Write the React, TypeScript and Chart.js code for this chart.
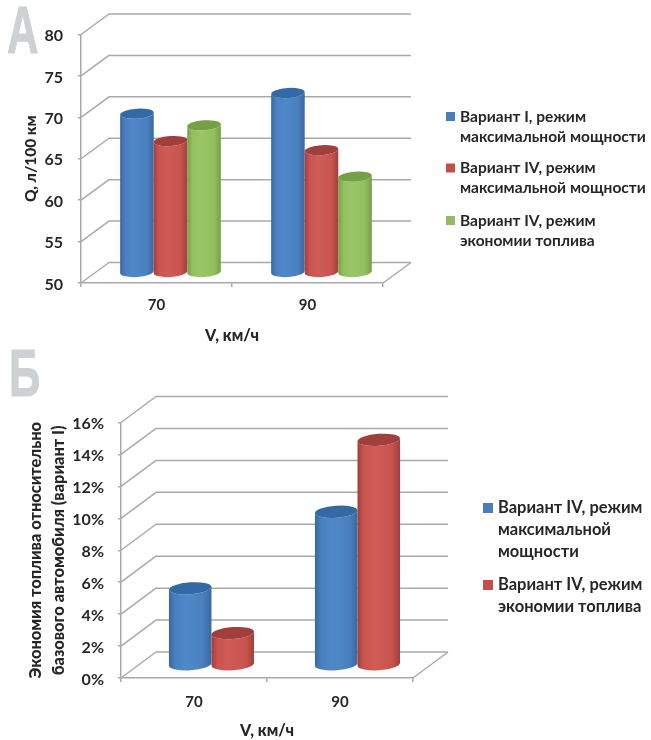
import React, { useEffect, useRef } from "react";
import { Chart, registerables } from "chart.js";

Chart.register(...registerables);

const speedCategories = ["70", "90"];

const fuelVariantOneMax = [69.2, 71.7];
const fuelVariantFourMax = [65.9, 64.8];
const fuelVariantFourEco = [67.8, 61.6];

const savingVariantFourMax = [4.8, 9.6];
const savingVariantFourEco = [2.0, 14.1];

const fuelLegend = [
  ["Вариант I, режим", "максимальной мощности"],
  ["Вариант IV, режим", "максимальной мощности"],
  ["Вариант IV, режим", "экономии топлива"],
];
const savingLegend = [
  ["Вариант IV, режим", "максимальной", "мощности"],
  ["Вариант IV, режим", "экономии топлива"],
];

const fuelAxisTitle = "Q, л/100 км";
const savingAxisTitle = ["Экономия топлива относительно", "базового автомобиля (вариант I)"];
const speedAxisTitle = "V, км/ч";

const BLUE = { edge: "#3a689f", body: "#4a80bf", light: "#4f88c9", cap: "#3369a5", swatch: "#4a7ebb" };
const RED = { edge: "#a03f3c", body: "#c9544f", light: "#cf5c58", cap: "#a03f3c", swatch: "#c0504d" };
const GREEN = { edge: "#789c47", body: "#93c05e", light: "#9ac765", cap: "#76a044", swatch: "#93bb5f" };

const FONT = "Lato, 'Open Sans', sans-serif";
const AXIS_GREY = "#a9a9a9";
const TEXT = "#262626";

type Palette = typeof BLUE;

// Side wall, back wall and floor of the box behind the columns.
const wallsPlugin = {
  id: "walls",
  beforeDatasetsDraw(chart: any, _args: any, opts: any) {
    const { ctx, chartArea: a, scales } = chart;
    const { dx, dy } = opts;
    ctx.save();
    ctx.strokeStyle = AXIS_GREY;
    ctx.lineWidth = 1.5;
    ctx.lineJoin = "round";
    for (const tick of scales.y.ticks) {
      const y = scales.y.getPixelForValue(tick.value);
      ctx.beginPath();
      ctx.moveTo(a.left, y);
      ctx.lineTo(a.left + dx, y - dy);
      ctx.lineTo(a.right + dx, y - dy);
      ctx.stroke();
    }
    ctx.beginPath();
    ctx.moveTo(a.right, a.bottom);
    ctx.lineTo(a.right + dx, a.bottom - dy);
    ctx.stroke();
    ctx.restore();
  },
};

// Columns are taken from the bar elements and drawn as cylinders half way into the box.
const cylinderPlugin = {
  id: "cylinders",
  afterDatasetsDraw(chart: any, _args: any, opts: any) {
    const { ctx } = chart;
    const { dx, dy, ry, palettes } = opts;
    const tilt = (-4 * Math.PI) / 180;
    chart.data.datasets.forEach((_ds: any, i: number) => {
      const pal: Palette = palettes[i];
      chart.getDatasetMeta(i).data.forEach((bar: any) => {
        const { x, y, base, width } = bar.getProps(["x", "y", "base", "width"], true);
        const cx = x + dx / 2;
        const top = y - dy / 2;
        const bottom = base - dy / 2;
        const rx = width / 2;
        const lift = Math.sin(tilt) * rx;
        const grad = ctx.createLinearGradient(cx - rx, 0, cx + rx, 0);
        grad.addColorStop(0, pal.edge);
        grad.addColorStop(0.15, pal.body);
        grad.addColorStop(0.4, pal.light);
        grad.addColorStop(0.8, pal.body);
        grad.addColorStop(1, pal.edge);
        ctx.save();
        ctx.beginPath();
        ctx.moveTo(cx - rx, top - lift);
        ctx.lineTo(cx - rx, bottom - lift);
        ctx.ellipse(cx, bottom, rx, ry, tilt, Math.PI, 0, true);
        ctx.lineTo(cx + rx, top + lift);
        ctx.ellipse(cx, top, rx, ry, tilt, 0, Math.PI, false);
        ctx.closePath();
        ctx.fillStyle = grad;
        ctx.fill();
        ctx.beginPath();
        ctx.ellipse(cx, top, rx, ry, tilt, 0, Math.PI * 2);
        ctx.fillStyle = pal.cap;
        ctx.fill();
        ctx.restore();
      });
    });
  },
};

// Legend with wrapped entries, placed beside the plot.
const wrappedLegendPlugin = {
  id: "wrappedLegend",
  afterDraw(chart: any, _args: any, opts: any) {
    const { ctx } = chart;
    const { boxX, textX, rows, lineGap, font, palettes, box } = opts;
    ctx.save();
    ctx.font = font;
    ctx.textBaseline = "middle";
    ctx.textAlign = "left";
    chart.data.datasets.forEach((ds: any, i: number) => {
      const rowY = rows[i];
      ctx.fillStyle = palettes[i].swatch;
      ctx.fillRect(boxX, rowY - box / 2, box, box);
      ctx.fillStyle = TEXT;
      ds.label.forEach((line: string, n: number) => {
        ctx.fillText(line, textX, rowY + n * lineGap);
      });
    });
    ctx.restore();
  },
};

function buildConfig(cfg: any) {
  return {
    type: "bar",
    data: {
      labels: speedCategories,
      datasets: cfg.series.map((values: number[], i: number) => ({
        label: cfg.legend[i],
        data: values,
        base: cfg.min,
        backgroundColor: "rgba(0,0,0,0)",
        borderWidth: 0,
        categoryPercentage: cfg.groupShare,
        barPercentage: 1,
      })),
    },
    options: {
      responsive: false,
      animation: false,
      layout: { padding: cfg.padding },
      plugins: {
        legend: { display: false },
        tooltip: { enabled: false },
        walls: { dx: cfg.dx, dy: cfg.dy },
        cylinders: { dx: cfg.dx, dy: cfg.dy, ry: cfg.ry, palettes: cfg.palettes },
        wrappedLegend: { ...cfg.legendBox, palettes: cfg.palettes },
      },
      scales: {
        x: {
          grid: { drawOnChartArea: false, drawTicks: true, tickLength: 4, color: AXIS_GREY, offset: true, lineWidth: 1.5 },
          border: { color: AXIS_GREY, width: 1.5 },
          ticks: { color: TEXT, font: { family: FONT, size: 15, weight: 700 }, padding: cfg.xTickPad, maxRotation: 0 },
          title: {
            display: true,
            text: speedAxisTitle,
            color: TEXT,
            font: { family: FONT, size: 16, weight: 900 },
            padding: { top: cfg.xTitlePad, bottom: 0 },
          },
          afterFit: (s: any) => { s.height = cfg.xHeight; },
        },
        y: {
          min: cfg.min,
          max: cfg.max,
          grid: { drawOnChartArea: false, drawTicks: true, tickLength: 3, color: AXIS_GREY, lineWidth: 1.5 },
          border: { color: AXIS_GREY, width: 1.5 },
          ticks: {
            stepSize: cfg.step,
            color: TEXT,
            font: { family: FONT, size: cfg.tickSize, weight: 700 },
            padding: cfg.yTickPad,
            labelOffset: 1.5,
            callback: (v: number) => `${v}${cfg.suffix}`,
          },
          title: {
            display: true,
            text: cfg.yTitle,
            color: TEXT,
            font: { family: FONT, size: cfg.yTitleSize, weight: 900, lineHeight: cfg.yTitleLine },
            padding: { top: 0, bottom: 0 },
          },
          afterFit: (s: any) => { s.width = cfg.yWidth; },
        },
      },
    },
    plugins: [wallsPlugin, cylinderPlugin, wrappedLegendPlugin],
  };
}

const fuelChart = {
  series: [fuelVariantOneMax, fuelVariantFourMax, fuelVariantFourEco],
  legend: fuelLegend,
  palettes: [BLUE, RED, GREEN],
  groupShare: 0.667,
  dx: 28,
  dy: 20.5,
  ry: 5,
  min: 50,
  max: 80,
  step: 5,
  suffix: "",
  tickSize: 16,
  yTitle: fuelAxisTitle,
  yTitleSize: 15.5,
  yTitleLine: 1.2,
  yTickPad: 15,
  xTickPad: 9,
  xTitlePad: 8,
  xHeight: 62,
  yWidth: 59,
  padding: { left: 22, right: 268, top: 34.5, bottom: 0 },
  legendBox: { boxX: 446, textX: 460, rows: [116.5, 168, 220.5], lineGap: 20.3, box: 9, font: `700 15.5px ${FONT}` },
};

const savingChart = {
  series: [savingVariantFourMax, savingVariantFourEco],
  legend: savingLegend,
  palettes: [BLUE, RED],
  groupShare: 0.583,
  dx: 35,
  dy: 26,
  ry: 6,
  min: 0,
  max: 16,
  step: 2,
  suffix: "%",
  tickSize: 16,
  yTitle: savingAxisTitle,
  yTitleSize: 16.4,
  yTitleLine: 1.4,
  yTickPad: 14,
  xTickPad: 11,
  xTitlePad: 8,
  xHeight: 62,
  yWidth: 97,
  padding: { left: 24, right: 238, top: 77.5, bottom: 0 },
  legendBox: { boxX: 483, textX: 498, rows: [163, 240], lineGap: 22, box: 10, font: `700 16.5px ${FONT}` },
};

function Panel({ cfg, width, height, top }: any) {
  const ref = useRef<HTMLCanvasElement>(null);
  useEffect(() => {
    const chart = new Chart(ref.current as HTMLCanvasElement, buildConfig(cfg) as any);
    return () => chart.destroy();
  }, [cfg]);
  return (
    <canvas
      ref={ref}
      width={width}
      height={height}
      style={{ position: "absolute", left: 0, top, width, height }}
    />
  );
}

function PanelLetter({ text, x, y }: any) {
  return (
    <div
      style={{
        position: "absolute",
        left: x,
        top: y,
        font: "bold 66px 'Liberation Sans Narrow', 'Liberation Sans', sans-serif",
        color: "#cdd1d4",
        lineHeight: "66px",
        transform: "scaleX(0.66)",
        transformOrigin: "0 0",
        WebkitTextStroke: "1px #cdd1d4",
      }}
    >
      {text}
    </div>
  );
}

export default function App() {
  return (
    <div style={{ position: "absolute", left: 0, top: 0, width: 651, height: 740, background: "#fff", overflow: "hidden" }}>
      <Panel cfg={fuelChart} width={651} height={345} top={0} />
      <Panel cfg={savingChart} width={651} height={395} top={345} />
      <PanelLetter text="А" x={7} y={-3} />
      <PanelLetter text="Б" x={9} y={340} />
    </div>
  );
}
